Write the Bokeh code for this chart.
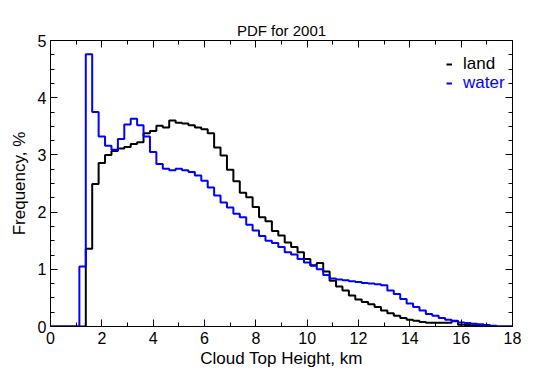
import numpy as np
from bokeh.plotting import figure
from bokeh.models import (Range1d, LinearAxis, SingleIntervalTicker, Legend,
                          LegendItem, ColumnDataSource)
from bokeh.embed import file_html
from bokeh.resources import INLINE

# Cloud-top-height PDF, 0.25 km bins (values are bin centres)
height_km = np.arange(0.0, 18.0 + 0.001, 0.25)

land_pct = [
    0, 0, 0, 0, 0, 0,
    1.36, 2.49, 2.86, 3.00, 3.07, 3.11, 3.14, 3.19, 3.22, 3.38,
    3.42, 3.51, 3.48, 3.60, 3.56, 3.55, 3.52, 3.48, 3.45, 3.38,
    3.13, 2.99, 2.74, 2.54, 2.34, 2.26, 2.09, 1.91, 1.84, 1.67,
    1.59, 1.47, 1.39, 1.30, 1.18, 1.07, 1.11, 0.96, 0.80, 0.70,
    0.63, 0.54, 0.47, 0.43, 0.39, 0.34, 0.28, 0.23, 0.19, 0.15,
    0.12, 0.10, 0.08, 0.065, 0.065, 0.065, 0.065, 0.10, 0.03, 0.025,
    0.02, 0.015, 0.01, 0.005,
    0, 0, 0,
]

water_pct = [
    0, 0, 0, 0, 0,
    1.05, 4.76, 3.75, 3.32, 3.16, 3.09, 3.28, 3.53, 3.63, 3.52,
    3.32, 3.05, 2.84, 2.76, 2.73, 2.76, 2.73, 2.70, 2.64, 2.55,
    2.43, 2.29, 2.17, 2.08, 1.97, 1.91, 1.78, 1.68, 1.58, 1.50,
    1.46, 1.39, 1.30, 1.26, 1.18, 1.12, 1.06, 1.00, 0.90, 0.84,
    0.82, 0.81, 0.79, 0.78, 0.76, 0.75, 0.74, 0.72, 0.63, 0.57,
    0.48, 0.40, 0.34, 0.28, 0.22, 0.19, 0.15, 0.12, 0.09, 0.07,
    0.06, 0.05, 0.04, 0.025, 0.012,
    0, 0, 0,
]

FONT = "Liberation Sans"

src = ColumnDataSource(dict(x=height_km, land=land_pct, water=water_pct))

p = figure(width=541, height=370, output_backend="svg", toolbar_location=None,
           x_range=Range1d(0, 18), y_range=Range1d(0, 5),
           min_border_left=50, min_border_right=29,
           min_border_top=40, min_border_bottom=44,
           title="PDF for 2001")

p.title.align = "center"
p.title.text_font = FONT
p.title.text_font_size = "15px"
p.title.text_font_style = "normal"
p.title.text_color = "black"
p.title.standoff = 4

p.grid.visible = False
p.outline_line_color = "black"
p.outline_line_width = 1
p.background_fill_color = "white"
p.border_fill_color = "white"


def style_axis(ax, show_labels):
    ax.axis_line_color = "black"
    ax.major_tick_line_color = "black"
    ax.minor_tick_line_color = "black"
    ax.major_tick_in = 7
    ax.major_tick_out = 0
    ax.minor_tick_in = 4
    ax.minor_tick_out = 0
    ax.major_label_text_font = FONT
    if show_labels:
        ax.major_label_text_font_size = "16px"
        ax.major_label_text_color = "black"
    else:
        # tick marks only on the top/right frame edges
        ax.major_label_text_font_size = "1px"
        ax.major_label_text_color = None
        ax.major_label_standoff = 0


p.xaxis.ticker = SingleIntervalTicker(interval=2, num_minor_ticks=2)
p.yaxis.ticker = SingleIntervalTicker(interval=1, num_minor_ticks=4)
style_axis(p.xaxis[0], True)
style_axis(p.yaxis[0], True)
p.xaxis.major_label_standoff = 5
p.yaxis.major_label_standoff = 4
p.xaxis.axis_label = "Cloud Top Height, km"
p.yaxis.axis_label = "Frequency, %"
for ax in (p.xaxis[0], p.yaxis[0]):
    ax.axis_label_text_font = FONT
    ax.axis_label_text_font_size = "17px"
    ax.axis_label_text_font_style = "normal"
    ax.axis_label_text_color = "black"
p.xaxis.axis_label_standoff = 2
p.yaxis.axis_label_standoff = 6

top_ax = LinearAxis(ticker=SingleIntervalTicker(interval=2, num_minor_ticks=2))
right_ax = LinearAxis(ticker=SingleIntervalTicker(interval=1, num_minor_ticks=4))
style_axis(top_ax, False)
style_axis(right_ax, False)
p.add_layout(top_ax, "above")
p.add_layout(right_ax, "right")

r_land = p.step("x", "land", source=src, mode="center",
                line_color="black", line_width=2)
r_water = p.step("x", "water", source=src, mode="center",
                 line_color="#0000ff", line_width=2)


def make_legend(label, renderer, color, y):
    return Legend(items=[LegendItem(label=label, renderers=[renderer])],
                  location=(396, y), orientation="vertical",
                  border_line_color=None, background_fill_alpha=0,
                  label_text_font=FONT, label_text_font_size="17px",
                  label_text_color=color, glyph_width=6, glyph_height=16,
                  label_height=16, label_standoff=11, padding=0, margin=0,
                  spacing=0)


p.add_layout(make_legend("land", r_land, "black", 252))
p.add_layout(make_legend("water", r_water, "#0000ff", 233))

open("out.html", "w").write(file_html(p, INLINE))
